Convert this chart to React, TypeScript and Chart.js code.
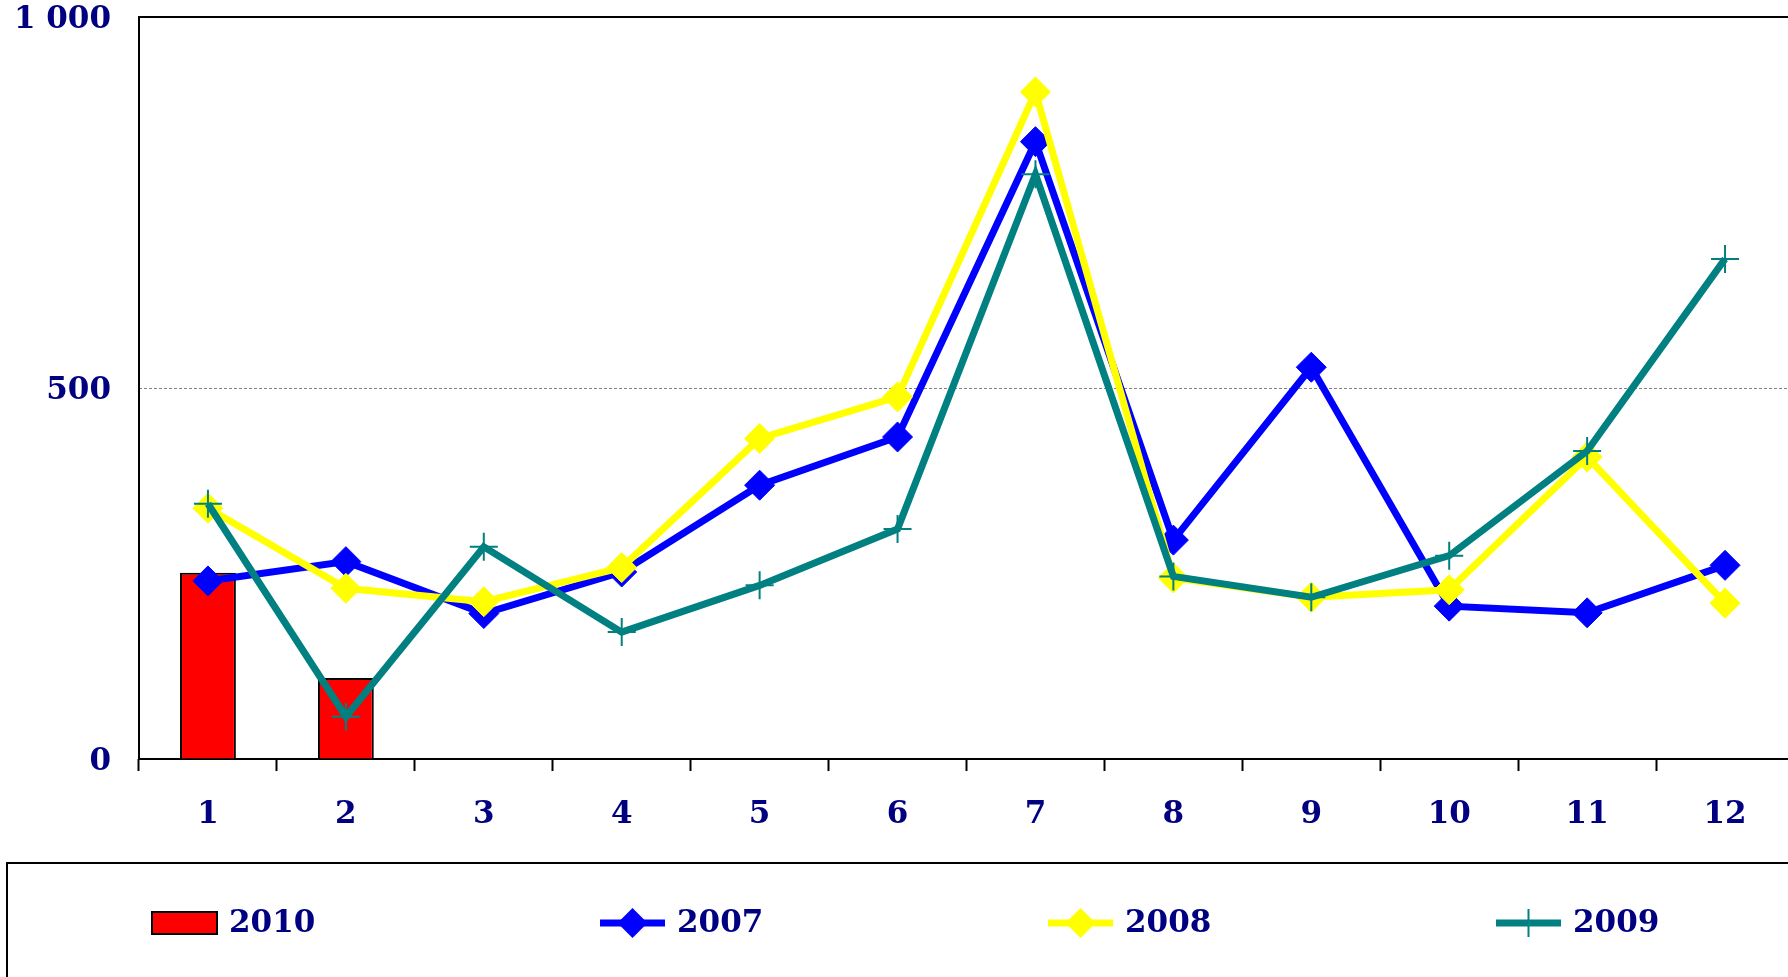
import React, { useEffect, useRef } from 'react';
import { Chart, registerables } from 'chart.js';

Chart.register(...registerables);

const months = ['1', '2', '3', '4', '5', '6', '7', '8', '9', '10', '11', '12'];
const seriesNames = ['2010', '2007', '2008', '2009'];
const values2010 = [251, 109, null, null, null, null, null, null, null, null, null, null];
const values2007 = [240, 266, 196, 252, 369, 434, 832, 295, 528, 206, 197, 261];
const values2008 = [338, 230, 212, 258, 432, 488, 899, 244, 218, 228, 407, 210];
const values2009 = [344, 57, 286, 171, 234, 310, 788, 246, 218, 274, 415, 674];
const yTickValues = [0, 500, 1000];
const yTickLabels = ['0', '500', '1 000'];

const NAVY = '#000080';
const FONT = '"DejaVu Serif", serif';

const framePlugin = {
  id: 'excelFrame',
  beforeDatasetsDraw(chart: any) {
    const { ctx, chartArea: a } = chart;
    ctx.save();
    ctx.strokeStyle = '#000';
    ctx.lineWidth = 2;
    ctx.strokeRect(a.left, a.top, a.right - a.left, a.bottom - a.top);
    ctx.restore();
  },
  afterDraw(chart: any) {
    const { ctx } = chart;
    ctx.save();
    ctx.strokeStyle = '#000';
    ctx.lineWidth = 2;
    ctx.strokeRect(7, 863, chart.width + 40, 300);
    const cy = 923;
    chart.data.datasets.forEach((ds: any, i: number) => {
      const x0 = 152 + i * 448;
      const sw = 65;
      if (ds.type === 'bar') {
        ctx.fillStyle = ds.backgroundColor;
        ctx.fillRect(x0, cy - 11, sw, 22);
        ctx.strokeStyle = '#000';
        ctx.lineWidth = 2;
        ctx.strokeRect(x0, cy - 11, sw, 22);
      } else {
        ctx.strokeStyle = ds.borderColor;
        ctx.lineWidth = ds.borderWidth;
        ctx.beginPath();
        ctx.moveTo(x0, cy);
        ctx.lineTo(x0 + sw, cy);
        ctx.stroke();
        const cx = x0 + sw / 2;
        const r = ds.pointRadius;
        if (ds.pointStyle === 'rectRot') {
          ctx.fillStyle = ds.pointBackgroundColor;
          ctx.beginPath();
          ctx.moveTo(cx, cy - r);
          ctx.lineTo(cx + r, cy);
          ctx.lineTo(cx, cy + r);
          ctx.lineTo(cx - r, cy);
          ctx.closePath();
          ctx.fill();
        } else {
          ctx.strokeStyle = ds.pointBorderColor;
          ctx.lineWidth = ds.pointBorderWidth;
          ctx.beginPath();
          ctx.moveTo(cx, cy - r);
          ctx.lineTo(cx, cy + r);
          ctx.moveTo(cx - r, cy);
          ctx.lineTo(cx + r, cy);
          ctx.stroke();
        }
      }
      ctx.fillStyle = NAVY;
      ctx.font = 'bold 31px ' + FONT;
      ctx.textAlign = 'left';
      ctx.textBaseline = 'middle';
      ctx.fillText(ds.label, x0 + 77, cy + 1);
    });
    ctx.restore();
  },
};

export default function App() {
  const ref = useRef<HTMLCanvasElement | null>(null);

  useEffect(() => {
    const canvas = ref.current;
    if (!canvas) return;
    const chart = new Chart(canvas, {
      type: 'bar',
      data: {
        labels: months,
        datasets: [
          {
            type: 'bar',
            label: seriesNames[0],
            data: values2010,
            backgroundColor: '#FF0000',
            borderColor: '#000000',
            borderWidth: 2,
            barPercentage: 0.405,
            categoryPercentage: 1,
            order: 4,
          } as any,
          {
            type: 'line',
            label: seriesNames[1],
            data: values2007,
            borderColor: '#0000FF',
            backgroundColor: '#0000FF',
            borderWidth: 7,
            pointStyle: 'rectRot',
            pointRadius: 15,
            pointBackgroundColor: '#0000FF',
            pointBorderColor: '#0000FF',
            pointBorderWidth: 1,
            tension: 0,
            fill: false,
            order: 3,
          } as any,
          {
            type: 'line',
            label: seriesNames[2],
            data: values2008,
            borderColor: '#FFFF00',
            backgroundColor: '#FFFF00',
            borderWidth: 7,
            pointStyle: 'rectRot',
            pointRadius: 15,
            pointBackgroundColor: '#FFFF00',
            pointBorderColor: '#FFFF00',
            pointBorderWidth: 1,
            tension: 0,
            fill: false,
            order: 2,
          } as any,
          {
            type: 'line',
            label: seriesNames[3],
            data: values2009,
            borderColor: '#008080',
            backgroundColor: '#008080',
            borderWidth: 7,
            pointStyle: 'cross',
            pointRadius: 14,
            pointBackgroundColor: '#008080',
            pointBorderColor: '#008080',
            pointBorderWidth: 2,
            tension: 0,
            fill: false,
            order: 1,
          } as any,
        ],
      },
      options: {
        responsive: false,
        animation: false,
        layout: { padding: { left: 0, top: 17, right: 10, bottom: 0 } },
        plugins: {
          legend: { display: false },
          tooltip: { enabled: false },
        },
        scales: {
          x: {
            offset: true,
            grid: {
              display: true,
              offset: true,
              drawOnChartArea: false,
              drawTicks: true,
              tickLength: 12,
              tickColor: '#000',
              tickWidth: 2,
            },
            border: { display: false },
            ticks: {
              color: NAVY,
              font: { family: FONT, size: 31, weight: 'bold' },
              padding: 25,
              maxRotation: 0,
              autoSkip: false,
            },
            afterFit: (scale: any) => {
              scale.height = 218;
              scale.paddingLeft = 0;
              scale.paddingRight = 0;
            },
          },
          y: {
            min: 0,
            max: 1000,
            grid: {
              drawTicks: false,
              lineWidth: 1,
              color: (c: any) => (c.tick && c.tick.value === 500 ? '#808080' : 'rgba(0,0,0,0)'),
            },
            border: { display: false, dash: [3, 2] },
            ticks: {
              color: NAVY,
              font: { family: FONT, size: 31, weight: 'bold' },
              padding: 28,
              labelOffset: 3,
              callback: (v: any) => {
                const idx = yTickValues.indexOf(Number(v));
                return idx >= 0 ? yTickLabels[idx] : '';
              },
            },
            afterBuildTicks: (scale: any) => {
              scale.ticks = yTickValues.map((v) => ({ value: v }));
            },
            afterFit: (scale: any) => {
              scale.width = 139;
              scale.paddingTop = 0;
              scale.paddingBottom = 0;
            },
          },
        },
      } as any,
      plugins: [framePlugin],
    });
    return () => chart.destroy();
  }, []);

  return (
    <div
      style={{
        position: 'fixed',
        left: 0,
        top: 0,
        width: '100vw',
        height: '100vh',
        overflow: 'hidden',
        background: '#fff',
      }}
    >
      <canvas ref={ref} width={1810} height={977} style={{ display: 'block', width: 1810, height: 977 }} />
    </div>
  );
}
